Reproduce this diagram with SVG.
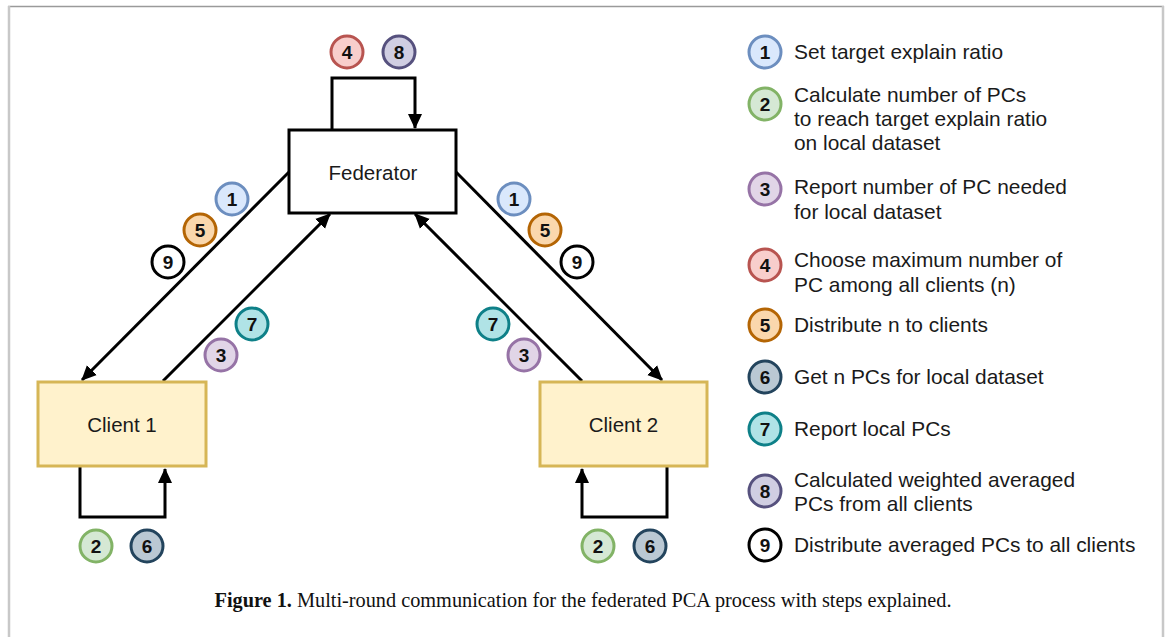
<svg xmlns="http://www.w3.org/2000/svg" width="1168" height="637" viewBox="0 0 1168 637">
<style>
.lbl{font-family:"Liberation Sans",Arial,sans-serif;font-size:20.9px;fill:#1a1a1a}
.num{font-family:"Liberation Sans",Arial,sans-serif;font-size:19px;font-weight:bold;fill:#111;text-anchor:middle;dominant-baseline:central}
.nodetxt{font-family:"Liberation Sans",Arial,sans-serif;font-size:20.5px;fill:#1a1a1a;text-anchor:middle;dominant-baseline:central}
.edge{fill:none;stroke:#000;stroke-width:3}
.c1{fill:#dae8fc;stroke:#6c8ebf;stroke-width:3}
.c2{fill:#d5e8d4;stroke:#82b366;stroke-width:3}
.c3{fill:#e1d5e7;stroke:#9673a6;stroke-width:3}
.c4{fill:#f8cecc;stroke:#b85450;stroke-width:3}
.c5{fill:#fad7ac;stroke:#b46504;stroke-width:3}
.c6{fill:#bac8d3;stroke:#23445d;stroke-width:3}
.c7{fill:#b0e3e6;stroke:#0e8088;stroke-width:3}
.c8{fill:#d0cee2;stroke:#56517e;stroke-width:3}
.c9{fill:#fff;stroke:#000;stroke-width:3}
.client{fill:#fff2cc;stroke:#d6b656;stroke-width:3}
</style>
<defs>
<marker id="ah" markerUnits="userSpaceOnUse" markerWidth="16" markerHeight="16" viewBox="0 0 16 16" refX="14" refY="8" orient="auto">
<path d="M0,1 L15,8 L0,15 Z" fill="#000"/>
</marker>
</defs>
<rect width="1168" height="637" fill="#fff"/>
<g id="frame">
<line x1="8" y1="6.5" x2="1164" y2="6.5" stroke="#9a9a9a" stroke-width="1.5"/>
<line x1="9" y1="6" x2="9" y2="637" stroke="#c8c8c8" stroke-width="2.5"/>
<line x1="1163" y1="6" x2="1163" y2="637" stroke="#c8c8c8" stroke-width="2.5"/>
</g>
<g id="connectors">
<path class="edge" d="M332,130 V78 H415 V128" marker-end="url(#ah)"/>
<path class="edge" d="M80,467 V517 H165 V469" marker-end="url(#ah)"/>
<path class="edge" d="M667,467 V517 H582 V469" marker-end="url(#ah)"/>
<path class="edge" d="M289,172 L82,380" marker-end="url(#ah)"/>
<path class="edge" d="M163,381 L330,214" marker-end="url(#ah)"/>
<path class="edge" d="M456,172 L662,380" marker-end="url(#ah)"/>
<path class="edge" d="M582,381 L415,214" marker-end="url(#ah)"/>
</g>
<g id="federator">
<rect x="289" y="130" width="167" height="83" fill="#fff" stroke="#000" stroke-width="3"/>
<text class="nodetxt" x="373" y="172">Federator</text>
</g>
<g id="client1">
<rect class="client" x="38" y="382" width="168" height="84"/>
<text class="nodetxt" x="122" y="424">Client 1</text>
</g>
<g id="client2">
<rect class="client" x="540" y="382" width="167" height="84"/>
<text class="nodetxt" x="623.5" y="424">Client 2</text>
</g>
<g id="badges">
<circle class="c4" cx="347" cy="52" r="16"/><text class="num" x="347" y="52">4</text>
<circle class="c8" cx="399" cy="52" r="16"/><text class="num" x="399" y="52">8</text>
<circle class="c1" cx="232" cy="199" r="16"/><text class="num" x="232" y="199">1</text>
<circle class="c5" cx="200" cy="230" r="16"/><text class="num" x="200" y="230">5</text>
<circle class="c9" cx="168" cy="262" r="16"/><text class="num" x="168" y="262">9</text>
<circle class="c7" cx="252" cy="324" r="16"/><text class="num" x="252" y="324">7</text>
<circle class="c3" cx="221" cy="355" r="16"/><text class="num" x="221" y="355">3</text>
<circle class="c1" cx="514" cy="199" r="16"/><text class="num" x="514" y="199">1</text>
<circle class="c5" cx="545" cy="230" r="16"/><text class="num" x="545" y="230">5</text>
<circle class="c9" cx="577" cy="262" r="16"/><text class="num" x="577" y="262">9</text>
<circle class="c7" cx="493" cy="324" r="16"/><text class="num" x="493" y="324">7</text>
<circle class="c3" cx="524" cy="355" r="16"/><text class="num" x="524" y="355">3</text>
<circle class="c2" cx="96" cy="546" r="16"/><text class="num" x="96" y="546">2</text>
<circle class="c6" cx="147" cy="546" r="16"/><text class="num" x="147" y="546">6</text>
<circle class="c2" cx="598" cy="546" r="16"/><text class="num" x="598" y="546">2</text>
<circle class="c6" cx="650" cy="546" r="16"/><text class="num" x="650" y="546">6</text>
</g>
<g id="legend">
<circle class="c1" cx="765" cy="52" r="16"/><text class="num" x="765" y="52">1</text>
<text class="lbl" x="794" y="59">Set target explain ratio</text>
<circle class="c2" cx="765" cy="104" r="16"/><text class="num" x="765" y="104">2</text>
<text class="lbl" x="794" y="102">Calculate number of PCs</text>
<text class="lbl" x="794" y="126">to reach target explain ratio</text>
<text class="lbl" x="794" y="150">on local dataset</text>
<circle class="c3" cx="765" cy="189" r="16"/><text class="num" x="765" y="189">3</text>
<text class="lbl" x="794" y="194">Report number of PC needed</text>
<text class="lbl" x="794" y="219">for local dataset</text>
<circle class="c4" cx="765" cy="265" r="16"/><text class="num" x="765" y="265">4</text>
<text class="lbl" x="794" y="267">Choose maximum number of</text>
<text class="lbl" x="794" y="292">PC among all clients (n)</text>
<circle class="c5" cx="765" cy="325" r="16"/><text class="num" x="765" y="325">5</text>
<text class="lbl" x="794" y="332">Distribute n to clients</text>
<circle class="c6" cx="765" cy="377" r="16"/><text class="num" x="765" y="377">6</text>
<text class="lbl" x="794" y="384">Get n PCs for local dataset</text>
<circle class="c7" cx="765" cy="429" r="16"/><text class="num" x="765" y="429">7</text>
<text class="lbl" x="794" y="436">Report local PCs</text>
<circle class="c8" cx="765" cy="491" r="16"/><text class="num" x="765" y="491">8</text>
<text class="lbl" x="794" y="487">Calculated weighted averaged</text>
<text class="lbl" x="794" y="511">PCs from all clients</text>
<circle class="c9" cx="765" cy="545" r="16"/><text class="num" x="765" y="545">9</text>
<text class="lbl" x="794" y="552">Distribute averaged PCs to all clients</text>
</g>
<g id="caption">
<text x="583" y="607" text-anchor="middle" font-family="'Liberation Serif','Times New Roman',serif" font-size="20.3" fill="#111"><tspan font-weight="bold">Figure 1.</tspan> Multi-round communication for the federated PCA process with steps explained.</text>
</g>
</svg>
